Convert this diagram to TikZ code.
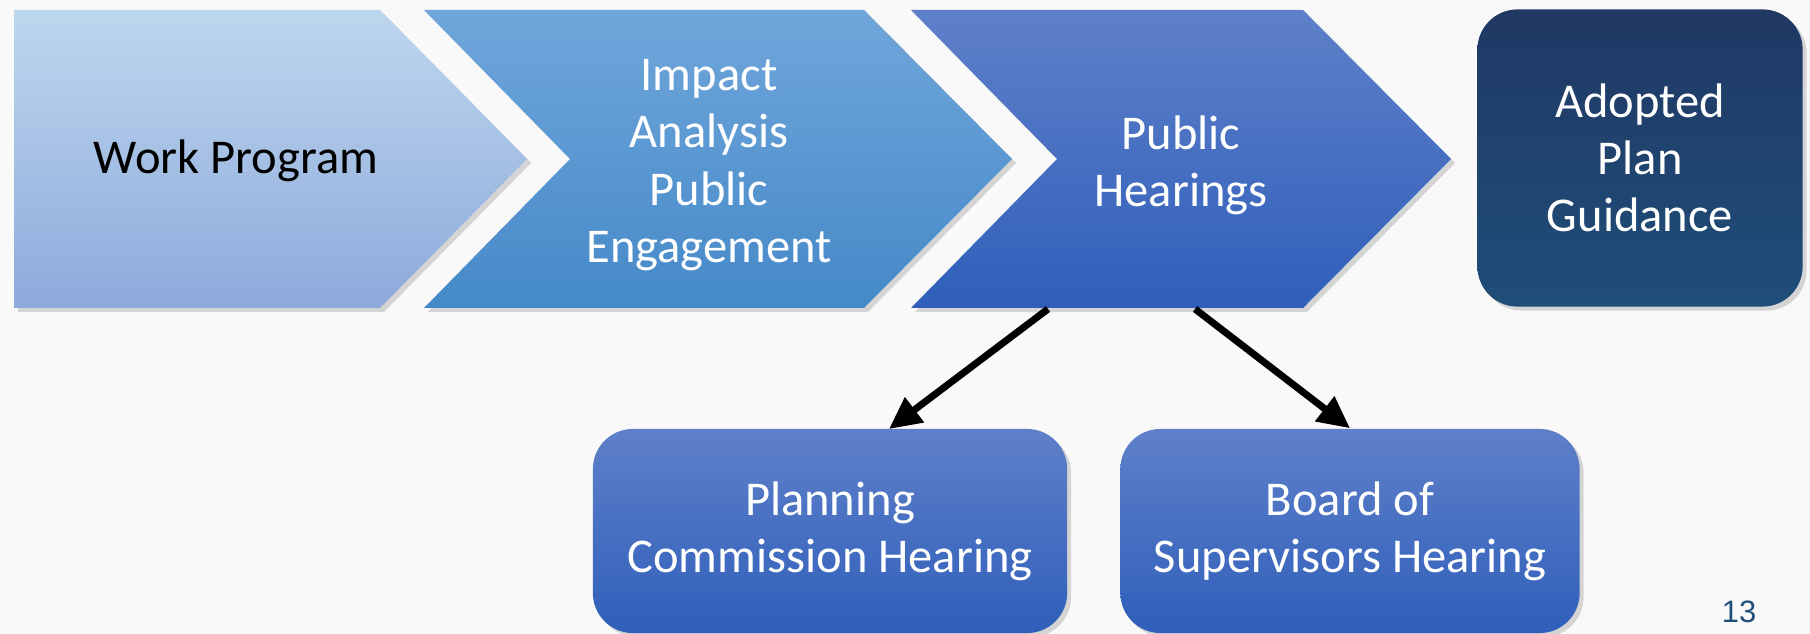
\documentclass[tikz,border=0pt]{standalone}
\usepackage{fontspec}
\setmainfont{Carlito}
\newfontfamily\pagefont{Liberation Sans}
\usetikzlibrary{arrows.meta,shadows}

\definecolor{pagebg}{HTML}{F9F9F9}
\definecolor{stepAtop}{HTML}{BDD7EE}
\definecolor{stepAbot}{HTML}{8EA9DB}
\definecolor{stepBtop}{HTML}{70A6DB}
\definecolor{stepBbot}{HTML}{4589C8}
\definecolor{stepCtop}{HTML}{5F80C9}
\definecolor{stepCbot}{HTML}{2F5FBA}
\definecolor{goaltop}{HTML}{203864}
\definecolor{goalbot}{HTML}{1F4E79}

\tikzset{
	shad/.style={drop shadow={shadow xshift=0.04cm,shadow yshift=-0.04cm,opacity=0.3}},
	lbl/.style={align=center,font=\fontsize{13.8}{16.3}\selectfont},
	hbox/.style={shad,lbl,text=white,rounded corners=0.4cm,top color=stepCtop,bottom color=stepCbot},
	link/.style={-{Triangle[length=0.32cm,width=0.3cm]},line width=0.07cm}
}

\begin{document}
\begin{tikzpicture}[x=0.01cm,y=-0.01cm]
								\useasboundingbox (0,0) rectangle (1810,634);
								\fill[pagebg] (0,0) rectangle (1810,634);
								\path[shad,top color=stepAtop,bottom color=stepAbot] (14,10) -- (380,10) -- (527,159) -- (380,308) -- (14,308) -- cycle;
								\path[shad,top color=stepBtop,bottom color=stepBbot] (424,10) -- (864,10) -- (1012,159) -- (864,308) -- (424,308) -- (570,159) -- cycle;
								\path[shad,top color=stepCtop,bottom color=stepCbot] (911,10) -- (1303,10) -- (1451,159) -- (1303,308) -- (911,308) -- (1057,159) -- cycle;
								\node[lbl] (work) at (236,161) {Work Program};
								\node[lbl,text=white] (impact) at (709,165) {Impact\\Analysis\\Public\\Engagement};
								\node[lbl,text=white] (hear) at (1181,165) {Public\\Hearings};
								\node[hbox,top color=goaltop,bottom color=goalbot,minimum width=3.25cm,minimum height=2.97cm] (adopt) at (1640,158) {Adopted\\Plan\\Guidance};
								\node[hbox,minimum width=4.74cm,minimum height=2.04cm] (plan) at (830,531) {Planning\\Commission Hearing};
								\node[hbox,minimum width=4.59cm,minimum height=2.04cm] (board) at (1350,531) {Board of\\Supervisors Hearing};
								\coordinate (hearL) at (1048,309);
								\coordinate (hearR) at (1195,309);
								\coordinate (planin) at (889,429);
								\draw[link] (hearL) -- (planin);
								\draw[link] (hearR) -- (board.north);
								\node[text=goalbot,font=\pagefont\fontsize{8.8}{10}\selectfont] (pagenum) at (1739,612) {13};
							\end{tikzpicture}
\end{document}
